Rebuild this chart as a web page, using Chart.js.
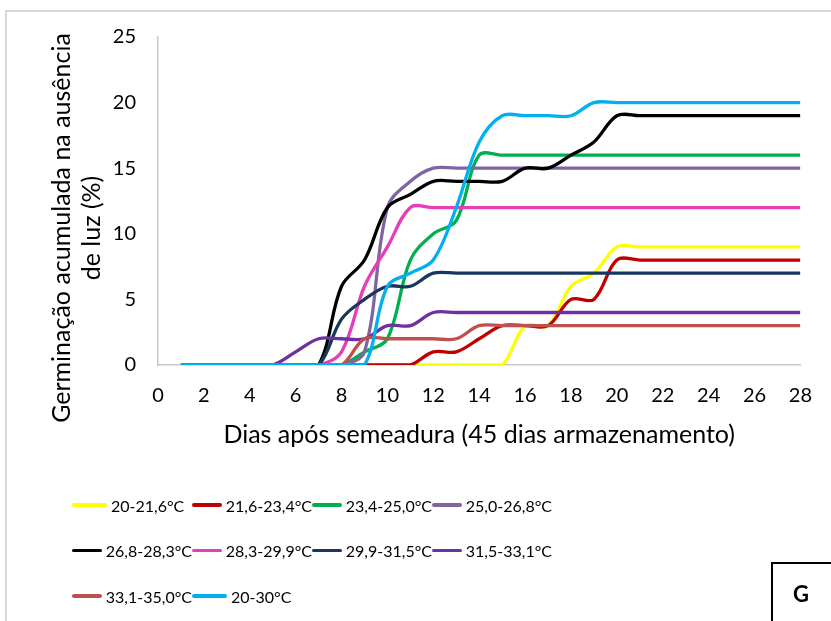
<!DOCTYPE html>
<html>
<head>
<meta charset="utf-8">
<script src="https://cdn.jsdelivr.net/npm/chart.js@4.4.1/dist/chart.umd.min.js"></script>
<style>
  body { margin: 0; background: #fff; }
  #wrap { position: relative; width: 831px; height: 621px; overflow: hidden; font-family: Lato, "Open Sans", sans-serif; }
  #frame { position: absolute; left: 5px; top: 10px; width: 900px; height: 700px;
           border-top: 2px solid #d9d9d9; border-left: 2px solid #d9d9d9; }
  #chart { position: absolute; left: 0; top: 0; }
  #legend { position: absolute; left: 72px; top: 494px; display: grid;
            grid-template-columns: repeat(4, 120px); grid-auto-rows: 45.5px; }
  .item { display: flex; align-items: center; height: 22px; font-size: 16px; color: #000; white-space: nowrap; }
  .item span.swatch { display: inline-block; width: 35px; height: 3.5px; margin-right: 4px; border-radius: 2px; }
  #tag { position: absolute; left: 771px; top: 562px; width: 80px; height: 80px;
         border: 2px solid #000; }
  #tag span { position: absolute; left: 20px; top: 16px; font-weight: bold; font-size: 22px; }
</style>
</head>
<body>
<div id="wrap">
  <div id="frame"></div>
  <canvas id="chart" width="831" height="621"></canvas>
  <div id="legend"></div>
  <div id="tag"><span>G</span></div>
</div>
<script>
let days = [1, 2, 3, 4, 5, 6, 7, 8, 9, 10, 11, 12, 13, 14, 15, 16, 17, 18, 19, 20, 21, 22, 23, 24, 25, 26, 27, 28];

let names = ["20-21,6°C", "21,6-23,4°C", "23,4-25,0°C", "25,0-26,8°C", "26,8-28,3°C",
             "28,3-29,9°C", "29,9-31,5°C", "31,5-33,1°C", "33,1-35,0°C", "20-30°C"];

let colors = ["#FFFF00", "#C00000", "#00B050", "#8064A2", "#000000",
              "#E83DBA", "#17375E", "#7030A0", "#C0504D", "#00B0F0"];

let t20_21 = [0, 0, 0, 0, 0, 0, 0, 0, 0, 0, 0, 0, 0, 0, 0, 3, 3, 6, 7, 9, 9, 9, 9, 9, 9, 9, 9, 9];
let t21_23 = [0, 0, 0, 0, 0, 0, 0, 0, 0, 0, 0, 1, 1, 2, 3, 3, 3, 5, 5, 8, 8, 8, 8, 8, 8, 8, 8, 8];
let t23_25 = [0, 0, 0, 0, 0, 0, 0, 0, 1, 2, 8, 10, 11, 16, 16, 16, 16, 16, 16, 16, 16, 16, 16, 16, 16, 16, 16, 16];
let t25_26 = [0, 0, 0, 0, 0, 0, 0, 0, 1, 12, 14, 15, 15, 15, 15, 15, 15, 15, 15, 15, 15, 15, 15, 15, 15, 15, 15, 15];
let t26_28 = [0, 0, 0, 0, 0, 0, 0, 6, 8, 12, 13, 14, 14, 14, 14, 15, 15, 16, 17, 19, 19, 19, 19, 19, 19, 19, 19, 19];
let t28_29 = [0, 0, 0, 0, 0, 0, 0, 1, 6, 9, 12, 12, 12, 12, 12, 12, 12, 12, 12, 12, 12, 12, 12, 12, 12, 12, 12, 12];
let t29_31 = [0, 0, 0, 0, 0, 0, 0, 3.5, 5, 6, 6, 7, 7, 7, 7, 7, 7, 7, 7, 7, 7, 7, 7, 7, 7, 7, 7, 7];
let t31_33 = [0, 0, 0, 0, 0, 1, 2, 2, 2, 3, 3, 4, 4, 4, 4, 4, 4, 4, 4, 4, 4, 4, 4, 4, 4, 4, 4, 4];
let t33_35 = [0, 0, 0, 0, 0, 0, 0, 0, 2, 2, 2, 2, 2, 3, 3, 3, 3, 3, 3, 3, 3, 3, 3, 3, 3, 3, 3, 3];
let t20_30 = [0, 0, 0, 0, 0, 0, 0, 0, 0, 6, 7, 8, 12, 17, 19, 19, 19, 19, 20, 20, 20, 20, 20, 20, 20, 20, 20, 20];

let series = [t20_21, t21_23, t23_25, t25_26, t26_28, t28_29, t29_31, t31_33, t33_35, t20_30];

let xTicks = [0, 2, 4, 6, 8, 10, 12, 14, 16, 18, 20, 22, 24, 26, 28];
let yTicks = [0, 5, 10, 15, 20, 25];

let yTitle = ["Germinação acumulada na ausência", "de luz (%)"];
let xTitle = "Dias após semeadura (45 dias armazenamento)";

// excel draws the last series on top
let datasets = series.map((vals, i) => ({
  label: names[i],
  data: vals.map((v, j) => ({x: days[j], y: v})),
  borderColor: colors[i],
  backgroundColor: colors[i],
  borderWidth: 3.3,
  pointRadius: 0,
  tension: 0.35,
  fill: false,
  order: series.length - i
}));

const yTitlePlugin = {
  id: "yTitle",
  afterDraw(chart) {
    let ctx = chart.ctx;
    ctx.save();
    ctx.translate(62, 228);
    ctx.rotate(-Math.PI / 2);
    ctx.font = "25px Lato";
    ctx.fillStyle = "#000";
    ctx.textAlign = "center";
    ctx.textBaseline = "middle";
    yTitle.forEach((line, i) => ctx.fillText(line, 0, i * 30));
    ctx.restore();
  }
};

const htmlLegend = {
  id: "htmlLegend",
  afterUpdate(chart) {
    let box = document.getElementById("legend");
    box.innerHTML = "";
    let items = chart.options.plugins.legend.labels.generateLabels(chart);
    items.sort((a, b) => a.datasetIndex - b.datasetIndex);
    items.forEach(item => {
      let div = document.createElement("div");
      div.className = "item";
      let sw = document.createElement("span");
      sw.className = "swatch";
      sw.style.background = item.strokeStyle;
      div.appendChild(sw);
      div.appendChild(document.createTextNode(item.text));
      box.appendChild(div);
    });
  }
};

new Chart(document.getElementById("chart"), {
  type: "line",
  data: { datasets: datasets },
  options: {
    responsive: false,
    animation: false,
    layout: { padding: { left: 0, top: 37, right: 29, bottom: 156 } },
    plugins: {
      legend: { display: false },
      tooltip: { enabled: false }
    },
    scales: {
      x: {
        type: "linear",
        min: 0,
        max: 28,
        afterFit: s => { s.height = 100; },
        afterBuildTicks: s => { s.ticks = xTicks.map(v => ({value: v})); },
        grid: { display: false, drawTicks: false },
        border: { display: true, color: "#c8c8c8", width: 1.5 },
        ticks: { padding: 19, color: "#000", font: { family: "Lato", size: 20 } },
        title: { display: true, text: xTitle, color: "#000", padding: { bottom: 15 },
                 font: { family: "Lato", size: 25 } }
      },
      y: {
        min: 0,
        max: 25,
        afterFit: s => { s.width = 158; },
        afterBuildTicks: s => { s.ticks = yTicks.map(v => ({value: v})); },
        grid: { display: false, drawTicks: false },
        border: { display: true, color: "#c8c8c8", width: 1.5 },
        ticks: { padding: 22, color: "#000", font: { family: "Lato", size: 20 } }
      }
    }
  },
  plugins: [yTitlePlugin, htmlLegend]
});
</script>
</body>
</html>
